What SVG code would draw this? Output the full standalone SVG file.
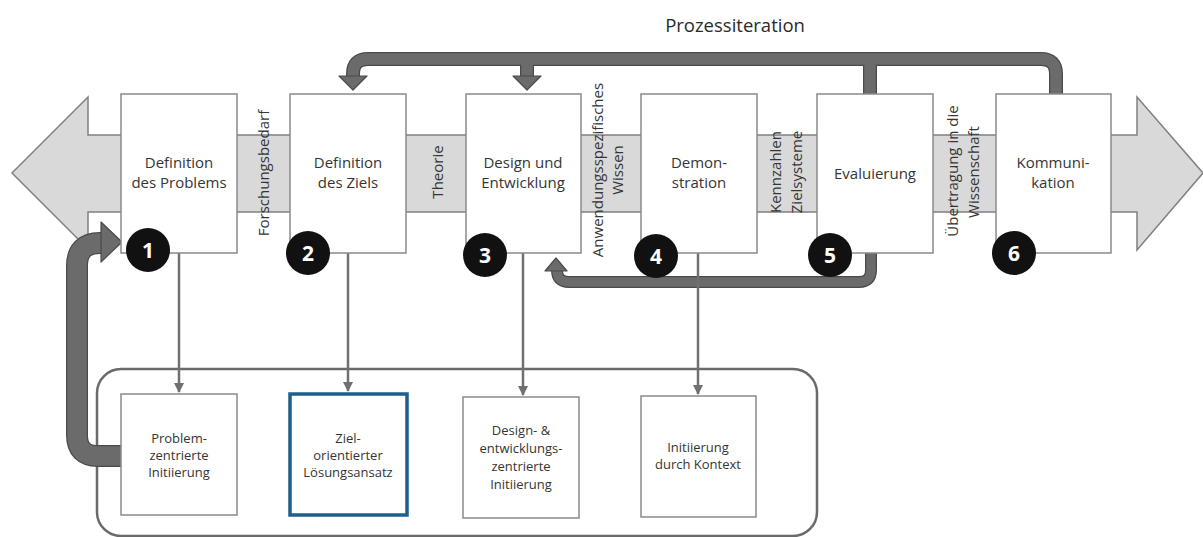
<svg xmlns="http://www.w3.org/2000/svg" width="1203" height="537" viewBox="0 0 1203 537">
  <style>
    text { font-family: "Open Sans", "Noto Sans", "Liberation Sans", sans-serif; fill: #353535; }
    .band { fill: #d9d9d9; stroke: #808080; stroke-width: 1.5; }
    .step { fill: #ffffff; stroke: #8a8a8a; stroke-width: 1.5; }
    .step-t { font-size: 15px; text-anchor: middle; }
    .side-t { font-size: 15px; text-anchor: middle; }
    .init { fill: #ffffff; stroke: #8a8a8a; stroke-width: 1.5; }
    .init-focus { fill: #ffffff; stroke: #1d5f8c; stroke-width: 3.5; }
    .init-t { font-size: 13px; text-anchor: middle; }
    .num { fill: #111111; }
    .num-t { font-size: 21px; font-weight: bold; fill: #ffffff; text-anchor: middle; }
    .flow-edge { fill: none; stroke: #4a4a4a; stroke-linejoin: round; }
    .flow { fill: none; stroke: #6b6b6b; stroke-linejoin: round; }
    .head { fill: #6b6b6b; stroke: #4a4a4a; stroke-width: 1.2; stroke-linejoin: round; }
    .link { fill: none; stroke: #707070; stroke-width: 2.5; }
    .group-frame { fill: none; stroke: #6a6a6a; stroke-width: 2.5; }
    .title { font-size: 18.5px; text-anchor: middle; fill: #2a2a2a; }
  </style>
  <defs>
    <marker id="tip" viewBox="0 0 10 10" refX="9" refY="5" markerWidth="4" markerHeight="4" orient="auto" markerUnits="strokeWidth">
      <path d="M0,0 L10,5 L0,10 Z" fill="#707070"/>
    </marker>
    <!-- thick iteration paths -->
    <path id="p-top" d="M1056,94 V74 Q1056,59 1041,59 H368 Q353,59 353,74 V78"/>
    <path id="p-stub3" d="M527,59 V78"/>
    <path id="p-stub5" d="M870,94 V59"/>
    <path id="p-bottom" d="M871,253 V270 Q871,282 859,282 H569 Q557,282 557,270 V271"/>
    <path id="p-left" d="M121,456 H98 Q77,456 77,435 V266 Q77,243 100,243 H104"/>
  </defs>

  <!-- process band with arrowheads at both ends -->
  <polygon class="band" points="12,173 88,97 88,135 1137,135 1137,97 1203,173 1137,250 1137,212 88,212 88,249"/>

  <text class="title" x="735" y="32">Prozessiteration</text>

  <!-- labels on the band -->
  <g id="band-labels">
    <text class="side-t" transform="translate(269,173) rotate(-90)">Forschungsbedarf</text>
    <text class="side-t" transform="translate(443,172) rotate(-90)">Theorie</text>
    <text class="side-t" transform="translate(603,170) rotate(-90)">Anwendungsspezifisches</text>
    <text class="side-t" transform="translate(623,170) rotate(-90)">Wissen</text>
    <text class="side-t" transform="translate(781,172) rotate(-90)">Kennzahlen</text>
    <text class="side-t" transform="translate(802,172) rotate(-90)">Zielsysteme</text>
    <text class="side-t" transform="translate(958,171) rotate(-90)">Übertragung in die</text>
    <text class="side-t" transform="translate(979,172) rotate(-90)">Wissenschaft</text>
  </g>

  <!-- container of the entry points -->
  <rect class="group-frame" x="97" y="369" width="720" height="167" rx="24"/>

  <!-- connectors -->
  <g id="connectors">
    <use href="#p-top" class="flow-edge" stroke-width="14"/>
    <use href="#p-stub3" class="flow-edge" stroke-width="14"/>
    <use href="#p-stub5" class="flow-edge" stroke-width="14"/>
    <use href="#p-bottom" class="flow-edge" stroke-width="12"/>
    <use href="#p-left" class="flow-edge" stroke-width="22"/>
    <use href="#p-top" class="flow" stroke-width="11.5"/>
    <use href="#p-stub3" class="flow" stroke-width="11.5"/>
    <use href="#p-stub5" class="flow" stroke-width="11.5"/>
    <use href="#p-bottom" class="flow" stroke-width="9.5"/>
    <use href="#p-left" class="flow" stroke-width="19.5"/>
    <polygon class="head" points="339,76 353,90 367,76"/>
    <polygon class="head" points="513,76 527,90 541,76"/>
    <polygon class="head" points="545,271 556,258 567,271"/>
    <polygon class="head" points="101,222 122,242 101,262"/>

    <line class="link" x1="179" y1="253" x2="179" y2="392" marker-end="url(#tip)"/>
    <line class="link" x1="348" y1="253" x2="348" y2="391" marker-end="url(#tip)"/>
    <line class="link" x1="523" y1="253" x2="523" y2="395" marker-end="url(#tip)"/>
    <line class="link" x1="698" y1="253" x2="698" y2="394" marker-end="url(#tip)"/>
  </g>

  <!-- process steps -->
  <g id="step1">
    <rect class="step" x="121" y="94" width="116" height="159"/>
    <text class="step-t" x="179" y="168">Definition</text>
    <text class="step-t" x="179" y="188">des Problems</text>
  </g>
  <g id="step2">
    <rect class="step" x="290" y="94" width="116" height="159"/>
    <text class="step-t" x="348" y="168">Definition</text>
    <text class="step-t" x="348" y="188">des Ziels</text>
  </g>
  <g id="step3">
    <rect class="step" x="466" y="94" width="115" height="159"/>
    <text class="step-t" x="523" y="168">Design und</text>
    <text class="step-t" x="523" y="188">Entwicklung</text>
  </g>
  <g id="step4">
    <rect class="step" x="641" y="94" width="116" height="159"/>
    <text class="step-t" x="699" y="168">Demon-</text>
    <text class="step-t" x="699" y="188">stration</text>
  </g>
  <g id="step5">
    <rect class="step" x="817" y="94" width="116" height="159"/>
    <text class="step-t" x="875" y="179">Evaluierung</text>
  </g>
  <g id="step6">
    <rect class="step" x="996" y="94" width="115" height="159"/>
    <text class="step-t" x="1053" y="168">Kommuni-</text>
    <text class="step-t" x="1053" y="188">kation</text>
  </g>

  <!-- step numbers -->
  <g id="numbers">
    <circle class="num" cx="148" cy="250" r="22"/>
    <text class="num-t" x="148" y="258">1</text>
    <circle class="num" cx="308" cy="253" r="22"/>
    <text class="num-t" x="308" y="261">2</text>
    <circle class="num" cx="485" cy="255" r="22"/>
    <text class="num-t" x="485" y="263">3</text>
    <circle class="num" cx="656" cy="256" r="22"/>
    <text class="num-t" x="656" y="264">4</text>
    <circle class="num" cx="830" cy="255" r="22"/>
    <text class="num-t" x="830" y="263">5</text>
    <circle class="num" cx="1014" cy="253" r="22"/>
    <text class="num-t" x="1014" y="261">6</text>
  </g>

  <!-- entry points -->
  <g id="init-problem">
    <rect class="init" x="121" y="394" width="116" height="121"/>
    <text class="init-t" x="179" y="443">Problem-</text>
    <text class="init-t" x="179" y="460">zentrierte</text>
    <text class="init-t" x="179" y="477">Initiierung</text>
  </g>
  <g id="init-goal">
    <rect class="init-focus" x="290" y="394" width="117" height="121"/>
    <text class="init-t" x="348" y="443">Ziel-</text>
    <text class="init-t" x="348" y="460">orientierter</text>
    <text class="init-t" x="348" y="477">Lösungsansatz</text>
  </g>
  <g id="init-design">
    <rect class="init" x="463" y="397" width="116" height="121"/>
    <text class="init-t" x="521" y="435">Design- &amp;</text>
    <text class="init-t" x="521" y="453">entwicklungs-</text>
    <text class="init-t" x="521" y="471">zentrierte</text>
    <text class="init-t" x="521" y="489">Initiierung</text>
  </g>
  <g id="init-context">
    <rect class="init" x="641" y="396" width="115" height="121"/>
    <text class="init-t" x="698" y="452">Initiierung</text>
    <text class="init-t" x="698" y="469">durch Kontext</text>
  </g>
</svg>
